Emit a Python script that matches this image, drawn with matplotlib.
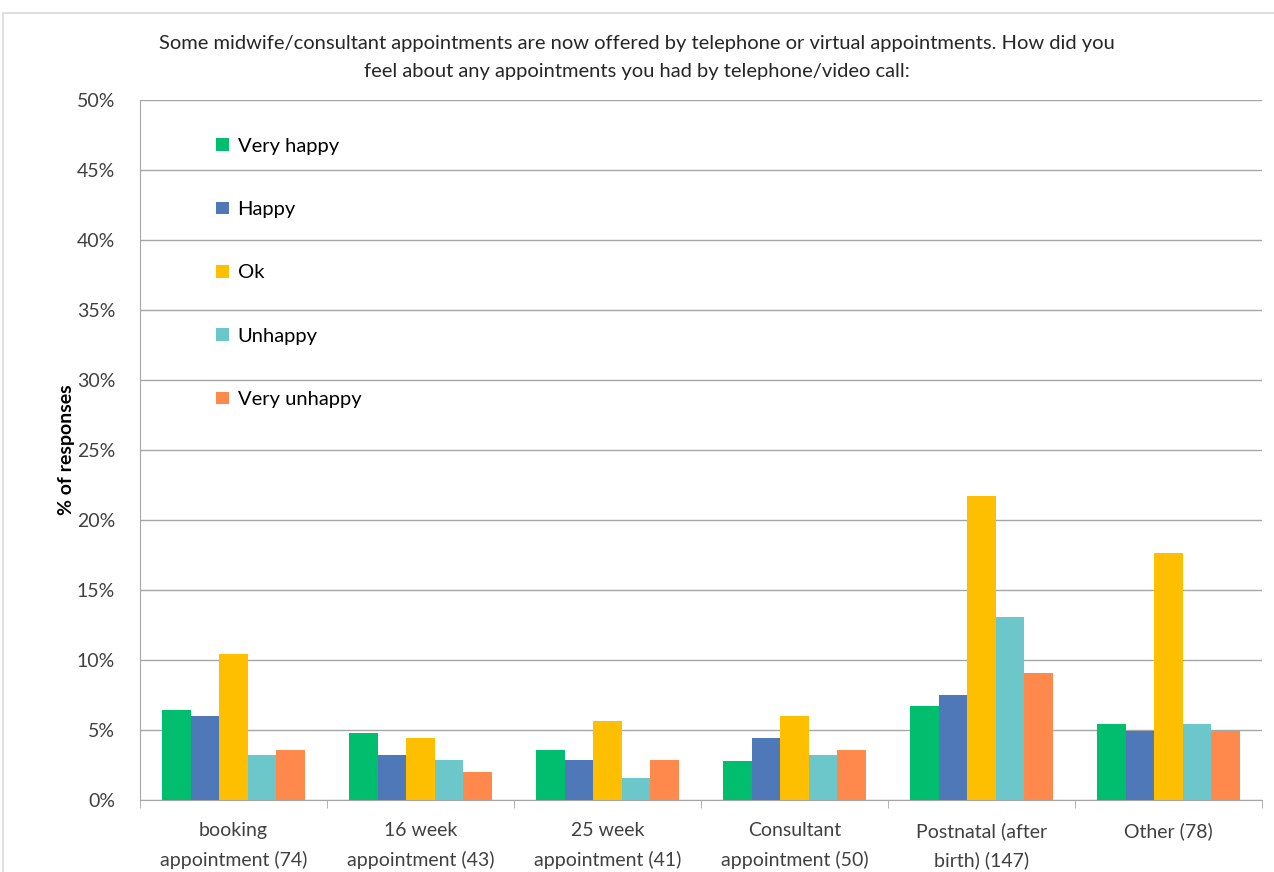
import numpy as np
import matplotlib
matplotlib.use("Agg")
import matplotlib.pyplot as plt
from matplotlib.patches import Rectangle

plt.rcParams['font.family'] = ['Lato', 'DejaVu Sans']

categories = ["booking\nappointment (74)", "16 week\nappointment (43)", "25 week\nappointment (41)",
              "Consultant\nappointment (50)", "Postnatal (after\nbirth) (147)", "Other (78)"]
series = ["Very happy", "Happy", "Ok", "Unhappy", "Very unhappy"]
very_happy = [6.4, 4.8, 3.6, 2.8, 6.7, 5.4]
happy = [6.0, 3.2, 2.85, 4.4, 7.5, 4.9]
ok = [10.4, 4.45, 5.65, 6.0, 21.7, 17.65]
unhappy = [3.2, 2.85, 1.6, 3.2, 13.05, 5.4]
very_unhappy = [3.6, 2.0, 2.85, 3.6, 9.05, 4.9]
colors = ["#00BE6E", "#4F78B8", "#FDBF00", "#6CC7CB", "#FF884D"]

values = [very_happy, happy, ok, unhappy, very_unhappy]

fig = plt.figure(figsize=(12.74, 8.72), dpi=100)
ax = fig.add_axes([140 / 1274, 1 - 800 / 872, 1122 / 1274, 700 / 872])

x = np.arange(len(categories))
w = 0.153
for i, (name, vals) in enumerate(zip(series, values)):
    ax.bar(x + (i - 2) * w, vals, width=w, color=colors[i], label=name, zorder=3)

ax.set_ylim(0, 50)
ax.set_xlim(-0.5, len(categories) - 0.5)
ax.set_yticks(np.arange(0, 51, 5))
ax.set_yticklabels([f"{v}%" for v in range(0, 51, 5)], fontsize=14, color="#404040")
ax.yaxis.grid(True, color="#A6A6A6", linewidth=1.0, zorder=0)
ax.tick_params(axis='y', length=0, pad=18)

ax.set_xticks(x)
ax.set_xticklabels(categories, fontsize=14, color="#404040", linespacing=1.75)
ax.tick_params(axis='x', length=0, pad=16)
ax.set_xticks(np.arange(-0.5, len(categories), 1), minor=True)
ax.tick_params(axis='x', which='minor', length=6, color="#A6A6A6", direction='out')

for s in ['top', 'right']:
    ax.spines[s].set_visible(False)
for s in ['left', 'bottom']:
    ax.spines[s].set_color("#A6A6A6")

ax.set_ylabel("% of responses", fontsize=14, fontweight='bold', labelpad=1)

ax.legend(loc='upper left', bbox_to_anchor=(0.052, 0.972), frameon=False, fontsize=14.5,
          handlelength=0.6, handleheight=0.6, handletextpad=0.45, labelspacing=2.3)

fig.text(0.5, 1 - 43 / 872, "Some midwife/consultant appointments are now offered by telephone or virtual appointments. How did you",
         ha='center', va='center', fontsize=14.5, color="#262626")
fig.text(0.5, 1 - 72 / 872, "feel about any appointments you had by telephone/video call:",
         ha='center', va='center', fontsize=14.5, color="#262626")

fig.patches.append(Rectangle((3 / 1274, -0.01), 1.0, 1 - 13 / 872 + 0.01, transform=fig.transFigure,
                             fill=False, edgecolor="#D9D9D9", linewidth=1.2))

fig.savefig("out.png", dpi=100)
